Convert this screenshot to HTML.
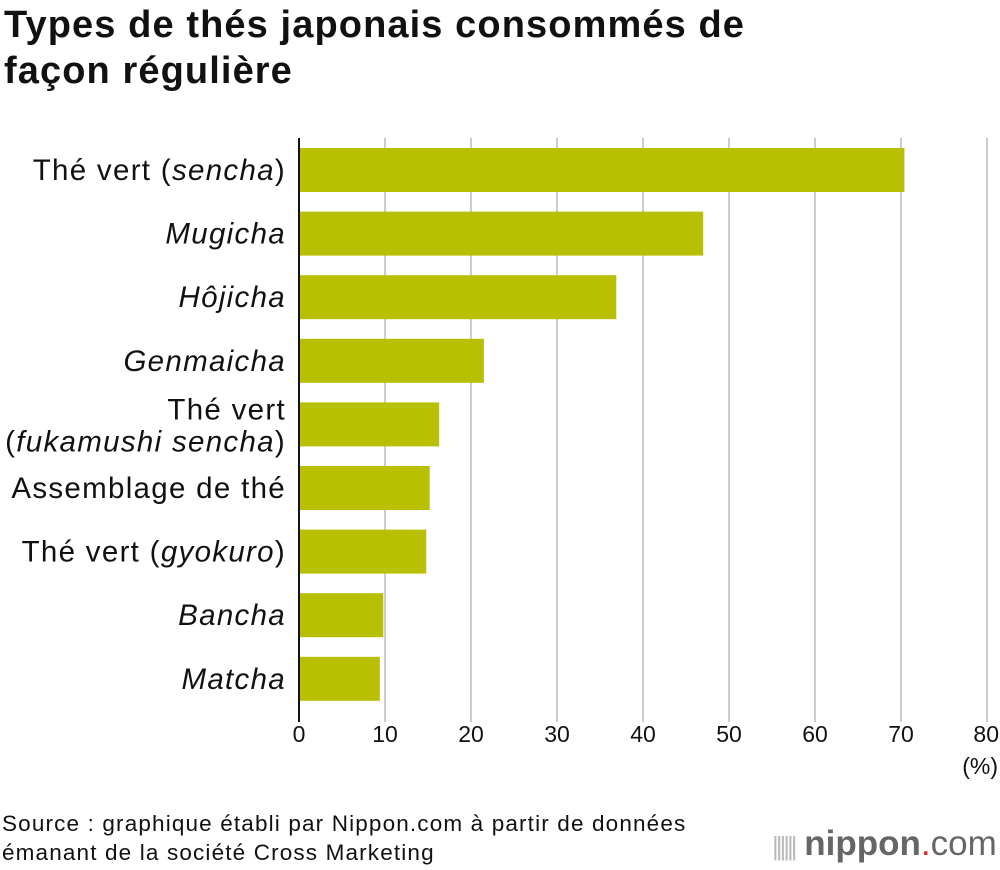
<!DOCTYPE html>
<html><head><meta charset="utf-8"><style>
body{margin:0;background:#fff;width:1000px;height:870px;overflow:hidden;font-family:"Liberation Sans",sans-serif;}
h1{position:absolute;left:4px;top:2px;margin:0;font-size:38px;line-height:46px;font-weight:bold;color:#111;letter-spacing:1.1px;width:790px}
.src{position:absolute;left:2px;top:809px;font-size:22.5px;line-height:29px;color:#111;letter-spacing:1.15px}
.logo{position:absolute;left:772px;top:824px;font-size:35px;color:#666;letter-spacing:0px}
</style></head><body>
<h1>Types de thés japonais consommés de façon régulière</h1>
<svg id="chart" width="1000" height="800" style="position:absolute;left:0;top:0"></svg>
<div class="src">Source : graphique établi par Nippon.com à partir de données<br>émanant de la société Cross Marketing</div>
<div class="logo"><span style="color:#bbb;font-size:26px;letter-spacing:-3px">||||||</span> <b style="color:#666">nippon</b><span style="color:#e22">.</span>com</div>
<script>
const categories=[["Thé vert (",["sencha"],")"],["",["Mugicha"],""],["",["Hôjicha"],""],["",["Genmaicha"],""],["Thé vert|(",["fukamushi sencha"],")"],["Assemblage de thé",[""],""],["Thé vert (",["gyokuro"],")"],["",["Bancha"],""],["",["Matcha"],""]];
const values=[70.4,47.0,36.9,21.5,16.3,15.2,14.8,9.8,9.4];
const ticks=[0,10,20,30,40,50,60,70,80];
const NS="http://www.w3.org/2000/svg";
const svg=document.getElementById('chart');
const x0=299,x1=987,xmax=80,top0=148,step=63.6,bh=44;
const xs=v=>x0+(x1-x0)*v/xmax;
const yc=i=>top0+bh/2+i*step;
function mk(t,a){const e=document.createElementNS(NS,t);for(const k in a)e.setAttribute(k,a[k]);svg.appendChild(e);return e;}
ticks.forEach(t=>{
  if(t>0){const g=mk('line',{x1:xs(t),x2:xs(t),y1:138,y2:722,stroke:'#ccc','stroke-width':2});
  
  }
  const l=mk('text',{x:xs(t),y:742,'text-anchor':t==80?'end':'middle','font-size':23,fill:'#111'});
  if(t==80)l.setAttribute('x',xs(t)+12);
  l.textContent=t;
  
  
});
const pu=mk('text',{x:998,y:774,'text-anchor':'end','font-size':23,fill:'#111'});pu.textContent='(%)';


values.forEach((v,i)=>{
  const r=mk('rect',{x:x0,y:yc(i)-bh/2,width:xs(v)-x0,height:bh,fill:'#b9c004'});
  
  
  const c=categories[i];
  const multi=c[0].includes('|');
  const t=mk('text',{x:286,'text-anchor':'end','font-size':29.5,fill:'#111','letter-spacing':1.3});
  
  
  if(multi){
    const a=document.createElementNS(NS,'tspan');a.setAttribute('x',286);a.setAttribute('y',yc(i)-5);a.textContent=c[0].split('|')[0];t.appendChild(a);
    const b=document.createElementNS(NS,'tspan');b.setAttribute('x',286);b.setAttribute('y',yc(i)+27);b.textContent=c[0].split('|')[1];t.appendChild(b);
  } else {
    t.setAttribute('y',yc(i)+10);
    const a=document.createElementNS(NS,'tspan');a.textContent=c[0];t.appendChild(a);
  }
  const it=document.createElementNS(NS,'tspan');it.setAttribute('font-style','italic');it.textContent=c[1][0];t.appendChild(it);
  const z=document.createElementNS(NS,'tspan');z.textContent=c[2];t.appendChild(z);
});
const ax=mk('line',{x1:x0,x2:x0,y1:138,y2:722,stroke:'#111','stroke-width':2});


</script>
</body></html>
